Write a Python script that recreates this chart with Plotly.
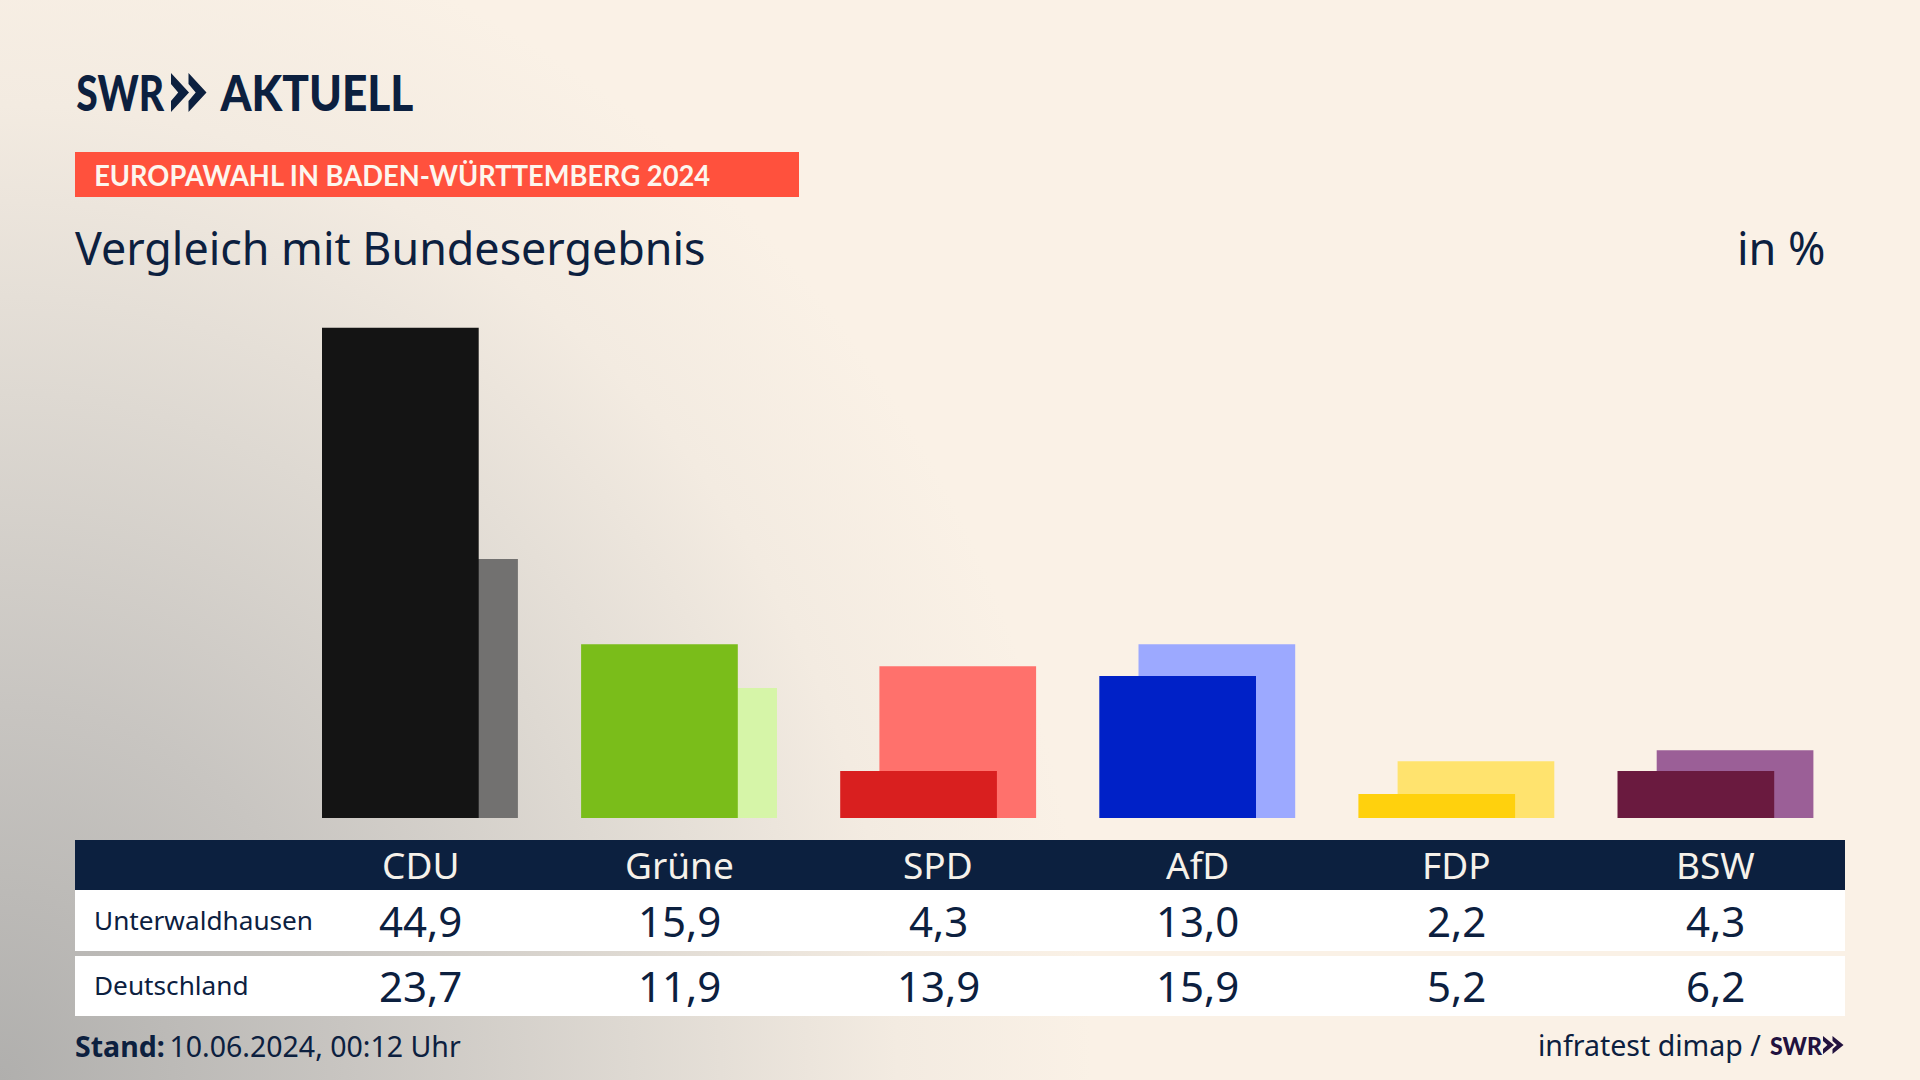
import base64
import plotly.graph_objects as go

parties = ["CDU", "Grüne", "SPD", "AfD", "FDP", "BSW"]
unterwaldhausen = [44.9, 15.9, 4.3, 13.0, 2.2, 4.3]
deutschland = [23.7, 11.9, 13.9, 15.9, 5.2, 6.2]
front_colors = ["#141414", "#7abd1a", "#d91f1f", "#0021c7", "#ffd10d", "#6a1a3f"]
back_colors = ["#727170", "#d6f5a8", "#ff716c", "#9ca9ff", "#ffe36e", "#9b5f97"]
row_names = ["Unterwaldhausen", "Deutschland"]

W, H = 1920, 1080
NAVY = "#0c203f"
FONT = "Noto Sans"
LOGO = "Lato"
STEP = 259.1
BAR_W = 156.7
BACK_OFF = 39.2
X0 = 322
BASE = 818
TOP = 327.5
fmt = lambda v: f"{v:.1f}".replace(".", ",")

svg = f"""<svg xmlns='http://www.w3.org/2000/svg' width='{W}' height='{H}'>
<defs><radialGradient id='g' gradientUnits='userSpaceOnUse' cx='0' cy='0' r='1'
 gradientTransform='translate(0 {H}) scale(1150 1250)'>
<stop offset='0' stop-color='#b0afad'/><stop offset='0.3' stop-color='#c8c5c1'/>
<stop offset='0.55' stop-color='#ded9d2'/><stop offset='0.78' stop-color='#f3ebe1'/>
<stop offset='0.95' stop-color='#faf1e6'/></radialGradient></defs>
<rect width='{W}' height='{H}' fill='url(#g)'/></svg>"""
bg = "data:image/svg+xml;base64," + base64.b64encode(svg.encode()).decode()

fig = go.Figure()
fig.add_bar(x=parties, y=deutschland, name="Deutschland", marker=dict(color=back_colors, line_width=0),
            width=BAR_W / STEP, offset=BACK_OFF / STEP, hoverinfo="x+y")
fig.add_bar(x=parties, y=unterwaldhausen, name="Unterwaldhausen", marker=dict(color=front_colors, line_width=0),
            width=BAR_W / STEP, offset=0, hoverinfo="x+y")


def px(x):
    return x / W


def py(y):
    return 1 - y / H


def text(x, y, s, size, color=NAVY, anchor="left", family=FONT, weight=None, **kw):
    pad = {"left": -2.5, "right": 2.5, "center": 0}[anchor]
    fig.add_annotation(x=px(x + pad), y=py(y), xref="paper", yref="paper", text=s, showarrow=False,
                       xanchor=anchor, yanchor="middle", align=anchor,
                       font=dict(size=size, color=color, family=family, weight=weight), **kw)


def rect(x0, y0, x1, y1, color):
    fig.add_shape(type="rect", xref="paper", yref="paper", x0=px(x0), x1=px(x1), y0=py(y0), y1=py(y1),
                  fillcolor=color, line_width=0, layer="below")


def chevrons(x, y, h, w, gap, n, color):
    for i in range(n):
        x0 = x + i * gap
        pts = [(x0, y), (x0 + w, y + h / 2), (x0, y + h), (x0, y + h * .72), (x0 + w * .4, y + h / 2), (x0, y + h * .28)]
        path = "M" + " L".join(f"{px(a):.5f},{py(b):.5f}" for a, b in pts) + " Z"
        fig.add_shape(type="path", xref="paper", yref="paper", path=path, fillcolor=color, line_width=0)


# header
text(121, 92, "SWR", 49, family=LOGO, anchor="center", weight=900)
chevrons(171, 73, 39, 18, 17.5, 2, NAVY)
text(316.5, 92, "AKTUELL", 49, family=LOGO, anchor="center", weight=900)
rect(75, 152, 799, 197, "#ff513d")
text(401.5, 175, "<b>EUROPAWAHL IN BADEN-WÜRTTEMBERG 2024</b>", 28, "#fdf6ee", family=LOGO, anchor="center")
text(75, 247, "Vergleich mit Bundesergebnis", 44.8)
text(1825, 247, "in %", 45, anchor="right")

# table
rect(75, 840, 1845, 890, NAVY)
rect(75, 890, 1845, 951, "#ffffff")
rect(75, 956, 1845, 1016, "#ffffff")
text(94, 920, row_names[0], 26.2)
text(94, 985, row_names[1], 26.2)
for i, p in enumerate(parties):
    for yy, s, size, col in ((864, p, 37, "#f6f1ea"),
                             (920, fmt(unterwaldhausen[i]), 42, NAVY),
                             (985, fmt(deutschland[i]), 42, NAVY)):
        fig.add_annotation(x=p, y=py(yy), xref="x", yref="paper", xshift=98, text=s, showarrow=False,
                           xanchor="center", yanchor="middle", font=dict(size=size, color=col, family=FONT))

# footer
text(75, 1046, "<b>Stand:</b>\u200910.06.2024, 00:12 Uhr", 28.5)
text(1760, 1045, "infratest dimap /", 28.5, anchor="right")
text(1796, 1045, "SWR", 24, "#22123f", anchor="center", family=LOGO, weight=900)
chevrons(1823, 1036, 18, 11, 9.5, 2, "#22123f")

fig.update_layout(
    width=W, height=H, margin=dict(l=0, r=0, t=0, b=0), barmode="overlay", showlegend=False,
    paper_bgcolor="#faf1e6", plot_bgcolor="rgba(0,0,0,0)",
    xaxis=dict(type="category", categoryorder="array", categoryarray=parties, domain=[0, 1],
               range=[-X0 / STEP, (W - X0) / STEP], visible=False, fixedrange=True),
    yaxis=dict(domain=[py(BASE), py(TOP)], range=[0, max(unterwaldhausen)], visible=False, fixedrange=True),
    images=[dict(source=bg, xref="paper", yref="paper", x=0, y=1, sizex=1, sizey=1,
                 sizing="stretch", xanchor="left", yanchor="top", layer="below")],
)

# The original lettering is condensed; no condensed face is installed, so fit the widths in the browser.
condense = """
document.body.style.margin = '0';
document.querySelectorAll('.annotation-text').forEach(function (el) {
  var t = el.textContent, big = parseFloat(el.style.fontSize) > 30, len = 0;
  if (t === 'SWR') { len = big ? 88 : 52; }
  else if (t === 'AKTUELL') { len = 193; }
  else if (t.indexOf('EUROPAWAHL') === 0) { len = 616; }
  if (len) { el.setAttribute('textLength', len); el.setAttribute('lengthAdjust', 'spacingAndGlyphs'); }
});
"""
fig.write_html("out.html", post_script=condense, config={"displayModeBar": False})
